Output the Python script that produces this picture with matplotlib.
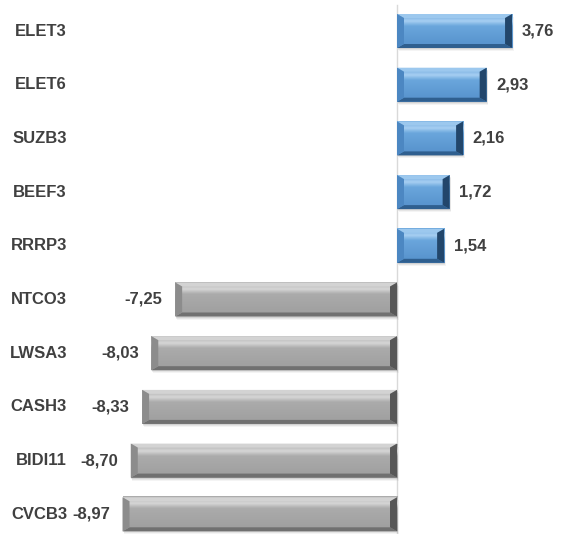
import numpy as np
import matplotlib
matplotlib.use('Agg')
import matplotlib.pyplot as plt
from matplotlib.patches import Polygon, Rectangle
from matplotlib.colors import LinearSegmentedColormap
import matplotlib.transforms as mtransforms

plt.rcParams['font.family'] = ['Liberation Sans Narrow', 'Liberation Sans', 'DejaVu Sans']

tickers = ['ELET3', 'ELET6', 'SUZB3', 'BEEF3', 'RRRP3',
           'NTCO3', 'LWSA3', 'CASH3', 'BIDI11', 'CVCB3']
changes = [3.76, 2.93, 2.16, 1.72, 1.54,
           -7.25, -8.03, -8.33, -8.70, -8.97]

W, H, DPI = 563, 534, 100
zero_px = 397.0       # pixel column of the zero line
px_per_unit = 30.6    # horizontal scale
first_px = 31.0       # centre of the first bar (from top)
step_px = 53.7        # distance between bars

# colour sets: face (light line, upper, lower), bevels
blue = dict(f0='#a7cff2', f1='#6aa6dc', f2='#5590cb', top='#9cc8ee', bot='#2f5f8f',
            left='#4c87c2', right='#22466b')
grey = dict(f0='#d6d6d6', f1='#ababab', f2='#9e9e9e', top='#d3d3d3', bot='#707070',
            left='#8c8c8c', right='#575757')

fig = plt.figure(figsize=(W / DPI, H / DPI), dpi=DPI)
ax = fig.add_axes([0, 0, 1, 1])
ax.set_xlim(-zero_px / px_per_unit, (W - zero_px) / px_per_unit)
ax.set_ylim((H - first_px) / step_px, -first_px / step_px)
ax.axis('off')

ypos = np.arange(len(tickers))
bar_h = 34 / step_px
bx = 7 / px_per_unit
by = 4 / step_px

# light vertical zero line
ax.plot([0, 0], [-(first_px - 5) / step_px, (H - first_px) / step_px],
        color='#d9d9d9', lw=1, zorder=0)

bars = ax.barh(ypos, changes, height=bar_h, color='none', edgecolor='none')

for rect, v in zip(bars.patches, changes):
    c = blue if v > 0 else grey
    x0 = rect.get_x()
    x1 = x0 + rect.get_width()
    xl, xr = min(x0, x1), max(x0, x1)
    yt = rect.get_y()            # visual top (y axis inverted)
    yb = yt + rect.get_height()  # visual bottom

    # soft shadow
    for k, a in [(3, 0.08), (2, 0.12), (1, 0.18)]:
        sx = k / px_per_unit
        sy = k / step_px
        ax.add_patch(Rectangle((xl + sx * 0.5, yt + sy), xr - xl, yb - yt,
                               color='#7f7f7f', alpha=a, lw=0, zorder=1))

    # face gradient
    cmap = LinearSegmentedColormap.from_list(
        'f', [(0, c['f1']), (0.2, c['f0']), (0.35, c['f1']), (1, c['f2'])])
    grad = np.linspace(0, 1, 64).reshape(-1, 1)
    ax.imshow(grad, cmap=cmap, aspect='auto', extent=(xl, xr, yb, yt),
              interpolation='bilinear', zorder=2)

    # bevel edges
    ax.add_patch(Polygon([(xl, yt), (xr, yt), (xr - bx, yt + by), (xl + bx, yt + by)],
                         closed=True, color=c['top'], lw=0, zorder=3))
    ax.add_patch(Polygon([(xl, yb), (xr, yb), (xr - bx, yb - by), (xl + bx, yb - by)],
                         closed=True, color=c['bot'], lw=0, zorder=3))
    ax.add_patch(Polygon([(xl, yt), (xl + bx, yt + by), (xl + bx, yb - by), (xl, yb)],
                         closed=True, color=c['left'], lw=0, zorder=3))
    ax.add_patch(Polygon([(xr, yt), (xr - bx, yt + by), (xr - bx, yb - by), (xr, yb)],
                         closed=True, color=c['right'], lw=0, zorder=3))

    label = f'{v:.2f}'.replace('.', ',')
    if v > 0:
        ax.annotate(label, (xr, rect.get_y() + rect.get_height() / 2),
                    xytext=(7, 0), textcoords='offset points', ha='left', va='center',
                    fontsize=12, fontweight='bold', color='#404040', zorder=5)
    else:
        ax.annotate(label, (xl, rect.get_y() + rect.get_height() / 2),
                    xytext=(-9, 0), textcoords='offset points', ha='right', va='center',
                    fontsize=12, fontweight='bold', color='#404040', zorder=5)

# category labels at the left
trans = mtransforms.blended_transform_factory(ax.transAxes, ax.transData)
for y, t in zip(ypos, tickers):
    ax.text(67 / W, y, t, transform=trans, ha='right', va='center',
            fontsize=12, fontweight='bold', color='#404040', zorder=5)

fig.savefig('out.png', dpi=DPI)
